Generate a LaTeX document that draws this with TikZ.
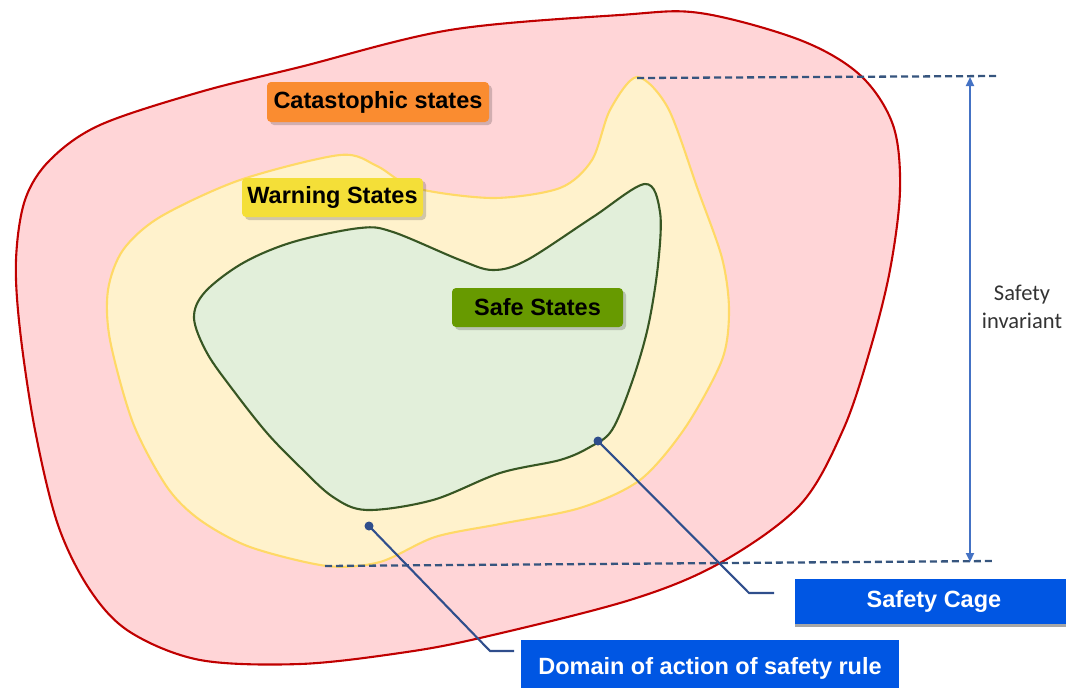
\documentclass[tikz,border=0pt]{standalone}
\usepackage{fontspec}
\setmainfont{Liberation Sans}
\newfontfamily\calibri{Carlito}
\usetikzlibrary{arrows.meta,shadows}
\definecolor{redfill}{HTML}{FFD5D7}
\definecolor{redline}{HTML}{C00000}
\definecolor{yelfill}{HTML}{FFF2CC}
\definecolor{yelline}{HTML}{FFD966}
\definecolor{grnfill}{HTML}{E2EFDA}
\definecolor{grnline}{HTML}{375623}
\definecolor{orangebox}{HTML}{FA8C30}
\definecolor{yellowbox}{HTML}{F4DF38}
\definecolor{greenbox}{HTML}{679A00}
\definecolor{bluebox}{HTML}{0056E3}
\definecolor{connblue}{HTML}{2F4E8C}
\definecolor{arrowblue}{HTML}{4472C4}
\definecolor{dashblue}{HTML}{36557E}
\definecolor{textgrey}{HTML}{333333}
\tikzset{
  region/.style={line width=2.1pt},
  lab/.style={rounded corners=4pt, inner sep=0pt, text=black,
    font=\bfseries\fontsize{23.5}{28}\selectfont,
    drop shadow={shadow xshift=3pt, shadow yshift=-3pt, opacity=.18, fill=black}},
  bluelab/.style={fill=bluebox, inner sep=0pt, text=white,
    font=\bfseries\fontsize{23.5}{28}\selectfont,
    drop shadow={shadow xshift=0pt, shadow yshift=-3pt, opacity=.35, fill=black}},
  guide/.style={dashblue, line width=2.3pt, dash pattern=on 7pt off 4pt},
  conn/.style={connblue, line width=2.1pt},
  dim/.style={arrowblue, line width=2.1pt, {Triangle[width=8pt,length=9pt]}-{Triangle[width=8pt,length=9pt]}}
}
\begin{document}
\begin{tikzpicture}[x=1pt,y=-1pt]
\useasboundingbox (0,0) rectangle (1066,688);
% catastrophic region
\draw[region, draw=redline, fill=redfill] plot[smooth cycle, tension=0.55] coordinates {
 (300,67) (450,30) (620,15) (700,13) (800,40) (860,75) (893,125) (900,190) (890,270)
 (870,350) (843,430) (800,505) (720,563) (630,600) (480,638) (400,653) (300,664)
 (200,660) (130,632) (90,590) (58,525) (35,430) (20,330) (16,260) (25,200) (50,160)
 (100,125) (200,92)};
% warning region
\draw[region, draw=yelline, fill=yelfill] plot[smooth cycle, tension=0.5] coordinates {
 (637,77) (668,108) (698,190) (722,258) (729,310) (722,360) (685,428) (640,480)
 (580,508) (500,524) (435,537) (380,562) (327,566) (250,547) (200,520) (167,487)
 (133,423) (110,340) (108,290) (123,250) (160,217) (240,180) (340,155) (377,166)
 (415,188) (493,198) (560,188) (592,160) (610,110)};
% safe region
\draw[region, draw=grnline, fill=grnfill] plot[smooth cycle, tension=0.55] coordinates {
 (194,318) (205,292) (243,263) (293,242) (360,228) (393,232) (460,260) (493,270)
 (527,260) (593,217) (645,184) (660,212) (658,265) (648,327) (632,382) (612,430)
 (590,447) (560,460) (500,473) (433,500) (367,510) (333,497) (300,467) (267,433)
 (233,390) (207,353)};
% guides
\coordinate (topl) at (637,78);
\coordinate (topr) at (997,76);
\coordinate (botl) at (325,566);
\coordinate (botr) at (995,561);
\draw[guide] (topl) -- (topr);
\draw[guide] (botl) -- (botr);
\coordinate (arrtop) at (970,77);
\coordinate (arrbot) at (970,562);
\draw[dim] (arrbot) -- (arrtop);
\node[font=\calibri\fontsize{22.5}{27.5}\selectfont, text=textgrey, align=center] (inv) at (1022,307) {Safety\\invariant};
% labels
\node[lab, fill=orangebox, minimum width=222pt, minimum height=40pt] (cat) at (378,102) {Catastophic states};
\node[lab, fill=yellowbox, minimum width=181pt, minimum height=39pt] (warn) at (332.5,197.5) {Warning States};
\node[lab, fill=greenbox, minimum width=171pt, minimum height=39pt] (safe) at (537.5,307.5) {Safe States};
\node[bluelab, minimum width=278pt, minimum height=45pt] (cage) at (934,601.5) {Safety Cage};
\node[bluelab, minimum width=378pt, minimum height=57pt] (dom) at (710,668.5) {Domain of action of safety rule};
% connectors
\coordinate (cagedot) at (598,441);
\coordinate (cageelb) at (749,593);
\coordinate (cageend) at (774,593);
\coordinate (domdot) at (369,526);
\coordinate (domelb) at (490,651);
\coordinate (domend) at (514,651);
\draw[conn] (cagedot) -- (cageelb) -- (cageend);
\draw[conn] (domdot) -- (domelb) -- (domend);
\fill[connblue] (cagedot) circle (4.5pt);
\fill[connblue] (domdot) circle (4.5pt);
\end{tikzpicture}
\end{document}
